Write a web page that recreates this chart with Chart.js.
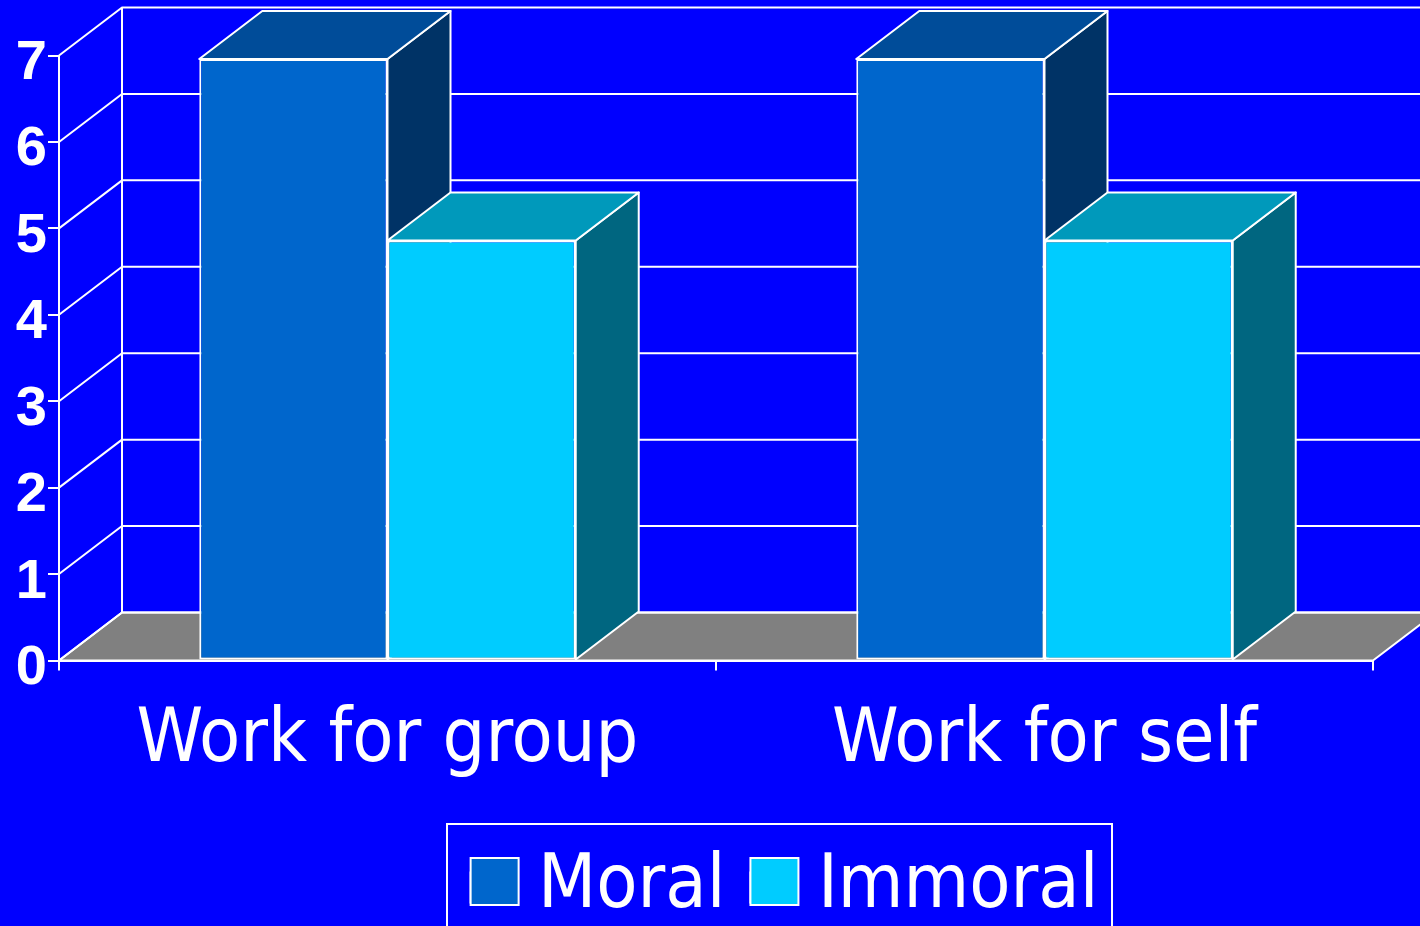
<!DOCTYPE html>
<html><head><meta charset="utf-8">
<style>html,body{margin:0;padding:0;background:#0000ff;overflow:hidden}canvas{display:block}</style>
<script src="https://cdn.jsdelivr.net/npm/chart.js@4"></script></head>
<body><div style="width:1420px;height:926px;position:relative"><canvas id="c" width="1420" height="926"></canvas></div>
<script>
const categories = ["Work for group", "Work for self"];
const moral = [6.96, 6.96];
const immoral = [4.86, 4.86];
const seriesNames = ["Moral", "Immoral"];
const frontColors = ["#0066cc", "#00ccff"];
const topColors = ["#004c99", "#0099bb"];
const sideColors = ["#003366", "#006680"];
const yMax = 7;
const wallDx = 63, wallDy = 48, barDx = 63, barDy = 48;
const legendShift = 98, legendTop = 825, swatch = 48;
const WHITE = "#ffffff";

function poly(ctx, pts, fill) {
  ctx.beginPath();
  pts.forEach((p, i) => i ? ctx.lineTo(p[0], p[1]) : ctx.moveTo(p[0], p[1]));
  ctx.closePath();
  if (fill) { ctx.fillStyle = fill; ctx.fill(); }
  ctx.stroke();
}
const scene = {
  id: "scene",
  afterLayout(chart) {
    const lg = chart.legend;
    lg.left += legendShift; lg.right += legendShift;
    lg.top = legendTop; lg.bottom = lg.top + lg.height;
  },
  beforeDatasetsDraw(chart) {
    const { ctx, scales: { x, y } } = chart;
    const L = x.left, R = x.right, B = y.getPixelForValue(0);
    ctx.save();
    ctx.strokeStyle = WHITE; ctx.lineWidth = 2; ctx.lineJoin = "round";
    poly(ctx, [[L, B], [L + wallDx, B - wallDy], [R + wallDx, B - wallDy], [R, B]], "#808080");
    y.ticks.forEach(t => {
      const py = y.getPixelForValue(t.value);
      ctx.beginPath();
      ctx.moveTo(L, py);
      ctx.lineTo(L + wallDx, py - wallDy);
      ctx.lineTo(R + wallDx, py - wallDy);
      ctx.stroke();
    });
    ctx.beginPath();
    ctx.moveTo(L + wallDx, B - wallDy);
    ctx.lineTo(L + wallDx, y.getPixelForValue(yMax) - wallDy);
    ctx.stroke();
    for (let col = 0; col < categories.length; col++) {
      [0, 1].forEach(ds => {
        const b = chart.getDatasetMeta(ds).data[col];
        const l = b.x - b.width / 2, r = b.x + b.width / 2, t = b.y, bt = b.base;
        poly(ctx, [[r, t], [r + barDx, t - barDy], [r + barDx, bt - barDy], [r, bt]], sideColors[ds]);
        poly(ctx, [[l, t], [l + barDx, t - barDy], [r + barDx, t - barDy], [r, t]], topColors[ds]);
      });
    }
    ctx.restore();
  },
  afterDraw(chart) {
    const lg = chart.legend, ctx = chart.ctx;
    ctx.save();
    ctx.strokeStyle = WHITE; ctx.lineWidth = 2;
    ctx.strokeRect(447, 824, 665, 140);
    // widen the legend's swatches to the reference's square size
    lg.legendHitBoxes.forEach((h, i) => {
      ctx.fillStyle = frontColors[i];
      ctx.fillRect(h.left, 858, swatch, swatch - 1);
      ctx.strokeRect(h.left, 858, swatch, swatch - 1);
    });
    ctx.restore();
  }
};
new Chart(document.getElementById("c"), {
  type: "bar",
  data: {
    labels: categories,
    datasets: [
      { label: seriesNames[0], data: moral, backgroundColor: frontColors[0] },
      { label: seriesNames[1], data: immoral, backgroundColor: frontColors[1] }
    ]
  },
  plugins: [scene],
  options: {
    responsive: false,
    animation: false,
    events: [],
    layout: { padding: { top: 55.5, right: 47, left: 0, bottom: 0 } },
    datasets: { bar: { barPercentage: 1, categoryPercentage: 0.573, borderColor: WHITE, borderWidth: 2, borderSkipped: false } },
    scales: {
      x: {
        grid: { drawOnChartArea: false, color: WHITE, tickColor: WHITE, tickLength: 10, lineWidth: 2 },
        border: { color: WHITE, width: 2 },
        ticks: { color: WHITE, padding: 26, maxRotation: 0, autoSkip: false, font: { family: "'DejaVu Sans Condensed','DejaVu Sans'", size: 75 } },
        afterFit(s) { s.height = 926 - 660.5 - s.chart.legend.height; }
      },
      y: {
        min: 0, max: yMax,
        grid: { drawOnChartArea: false, color: WHITE, tickColor: WHITE, tickLength: 11, lineWidth: 2 },
        border: { color: WHITE, width: 2 },
        ticks: { stepSize: 1, color: WHITE, padding: 1, labelOffset: 8, font: { family: "'Liberation Sans'", size: 56, weight: "bold" } },
        afterFit(s) { s.width = 59; }
      }
    },
    plugins: {
      tooltip: { enabled: false },
      legend: {
        position: "bottom",
        labels: {
          color: WHITE, boxWidth: 30, boxHeight: 30, padding: 25,
          font: { family: "'DejaVu Sans Condensed','DejaVu Sans'", size: 75 }
        }
      }
    }
  }
});
</script></body></html>
